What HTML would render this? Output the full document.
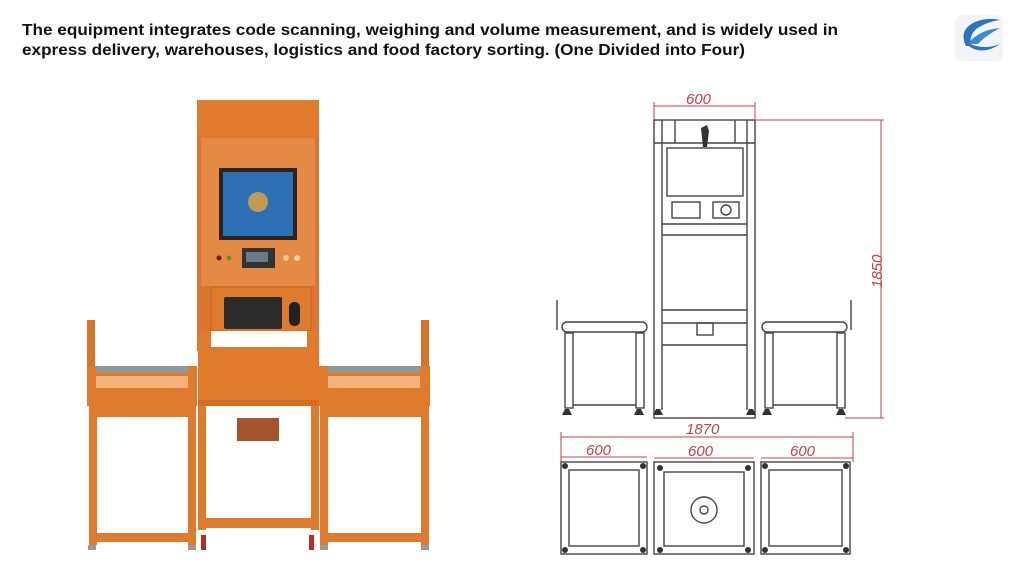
<!DOCTYPE html>
<html><head><meta charset="utf-8"><style>
html,body{margin:0;padding:0;background:#fff;width:1024px;height:573px;overflow:hidden}
svg{display:block}
</style></head><body>
<svg width="1024" height="573" viewBox="0 0 1024 573" xmlns="http://www.w3.org/2000/svg">
<g font-family="Liberation Sans, sans-serif" font-weight="bold" font-size="15.5" fill="#111">
<text x="22" y="35" textLength="816" lengthAdjust="spacingAndGlyphs">The equipment integrates code scanning, weighing and volume measurement, and is widely used in</text>
<text x="22" y="55" textLength="723" lengthAdjust="spacingAndGlyphs">express delivery, warehouses, logistics and food factory sorting. (One Divided into Four)</text>
</g>
<!-- logo -->
<rect x="955" y="15" width="48" height="46" rx="7" fill="#f2f4f7"/>
<path d="M966 46 Q958 30 975 22 Q988 17 1000 20 Q985 22 975 30 Q968 38 972 46Z" fill="#2a74c0"/>
<path d="M968 44 Q978 30 1000 28 Q985 36 978 44Z" fill="#3b8ad6"/>
<path d="M964 42 Q980 58 1000 44 Q985 50 970 44Z" fill="#2a74c0"/>
<!-- ORANGE MACHINE -->
<g>
<rect x="87" y="320" width="8" height="60" fill="#d8732a"/>
<rect x="87" y="366" width="110" height="40" fill="#e07a2c"/>
<rect x="96" y="366" width="92" height="7" fill="#8f9a96"/>
<rect x="96" y="376" width="92" height="12" fill="#f2b27a"/>
<rect x="89" y="405" width="8" height="140" fill="#e07a2c"/>
<rect x="188" y="405" width="8" height="140" fill="#e07a2c"/>
<rect x="89" y="405" width="107" height="12" fill="#e07a2c"/>
<rect x="89" y="533" width="107" height="9" fill="#e07a2c"/>
<rect x="421" y="320" width="8" height="60" fill="#d8732a"/>
<rect x="319" y="366" width="111" height="40" fill="#e07a2c"/>
<rect x="328" y="366" width="92" height="7" fill="#8f9a96"/>
<rect x="328" y="376" width="92" height="12" fill="#f2b27a"/>
<rect x="320" y="405" width="8" height="140" fill="#e07a2c"/>
<rect x="421" y="405" width="8" height="140" fill="#e07a2c"/>
<rect x="320" y="405" width="109" height="12" fill="#e07a2c"/>
<rect x="320" y="533" width="109" height="9" fill="#e07a2c"/>
<g fill="#999"><rect x="88" y="545" width="8" height="5"/><rect x="188" y="545" width="8" height="5"/><rect x="320" y="545" width="8" height="5"/><rect x="421" y="545" width="8" height="5"/></g>
<rect x="201" y="535" width="5" height="15" fill="#b03030"/><rect x="309" y="535" width="5" height="15" fill="#b03030"/>
<rect x="197" y="100" width="122" height="38" fill="#e07a2c"/>
<rect x="197" y="137" width="122" height="212" fill="#dd7530"/>
<rect x="201" y="138" width="114" height="148" fill="#e48a44"/>
<rect x="219" y="168" width="78" height="72" fill="#2a2420"/>
<rect x="223" y="172" width="70" height="64" fill="#2c6fb5"/>
<circle cx="258" cy="202" r="10" fill="#e6a73a" opacity="0.8"/>
<rect x="242" y="248" width="33" height="20" fill="#333"/>
<rect x="246" y="252" width="22" height="10" fill="#6b7a88"/>
<circle cx="219" cy="258" r="2.5" fill="#6a1f10"/><circle cx="229" cy="258" r="2.5" fill="#6a8a30"/>
<circle cx="286" cy="258" r="3" fill="#f0c090"/><circle cx="297" cy="258" r="3" fill="#f6d0a8"/>
<rect x="211" y="287" width="100" height="44" fill="#e07a2c" stroke="#c96420"/>
<rect x="224" y="297" width="58" height="32" rx="2" fill="#2b2b2b"/>
<rect x="289" y="302" width="11" height="24" rx="5" fill="#222"/>
<rect x="197" y="331" width="122" height="18" fill="#fff"/>
<rect x="197" y="331" width="14" height="20" fill="#e07a2c"/>
<rect x="307" y="331" width="12" height="20" fill="#e07a2c"/>
<rect x="198" y="347" width="121" height="57" fill="#e07a2c"/>
<rect x="198" y="400" width="121" height="6" fill="#d46c24"/>
<rect x="198" y="406" width="8" height="124" fill="#e07a2c"/>
<rect x="311" y="406" width="8" height="124" fill="#e07a2c"/>
<rect x="198" y="518" width="121" height="10" fill="#e07a2c"/>
<rect x="237" y="418" width="42" height="23" fill="#a4542a"/>
</g>
<!-- DRAWING -->
<g fill="none" stroke="#444" stroke-width="1.4">
<rect x="654" y="120" width="101" height="298"/>
<line x1="662" y1="120" x2="662" y2="410"/><line x1="747" y1="120" x2="747" y2="410"/>
<line x1="654" y1="143" x2="755" y2="143"/>
<line x1="675" y1="120" x2="675" y2="143"/><line x1="735" y1="120" x2="735" y2="143"/>
<rect x="667" y="148" width="76" height="48"/>
<rect x="672" y="202" width="28" height="16"/><rect x="713" y="202" width="26" height="16"/>
<circle cx="726" cy="210" r="5"/>
<line x1="662" y1="224" x2="747" y2="224"/><line x1="662" y1="235" x2="747" y2="235"/>
<line x1="662" y1="310" x2="747" y2="310"/><line x1="662" y1="323" x2="747" y2="323"/>
<line x1="662" y1="345" x2="747" y2="345"/>
<rect x="697" y="323" width="16" height="12"/>
<rect x="562" y="322" width="85" height="10" rx="5"/>
<line x1="557" y1="300" x2="557" y2="330"/><line x1="851" y1="300" x2="851" y2="330"/>
<rect x="565" y="333" width="8" height="75"/><rect x="636" y="333" width="8" height="75"/>
<line x1="573" y1="405" x2="636" y2="405"/>
<rect x="762" y="322" width="85" height="10" rx="5"/>
<rect x="765" y="333" width="8" height="75"/><rect x="837" y="333" width="8" height="75"/>
<line x1="773" y1="405" x2="837" y2="405"/>
<rect x="561" y="462" width="86" height="92"/><rect x="569" y="470" width="70" height="76"/>
<rect x="654" y="462" width="100" height="92"/><rect x="664" y="472" width="80" height="74"/>
<rect x="761" y="462" width="89" height="92"/><rect x="769" y="470" width="73" height="76"/>
<circle cx="704" cy="510" r="13"/><circle cx="704" cy="510" r="4"/>
</g>
<g fill="#333">
<path d="M701 128 l6 -3 l2 6 l-2 16 h-4z"/>
<circle cx="565" cy="466" r="3"/><circle cx="643" cy="466" r="3"/><circle cx="565" cy="550" r="3"/><circle cx="643" cy="550" r="3"/>
<circle cx="660" cy="468" r="3"/><circle cx="748" cy="468" r="3"/><circle cx="660" cy="550" r="3"/><circle cx="748" cy="550" r="3"/>
<circle cx="765" cy="466" r="3"/><circle cx="846" cy="466" r="3"/><circle cx="765" cy="550" r="3"/><circle cx="846" cy="550" r="3"/>
<path d="M562 415h10l-3-6h-4z M634 415h10l-3-6h-4z M653 415h10l-3-6h-4z M746 415h10l-3-6h-4z M762 415h10l-3-6h-4z M836 415h10l-3-6h-4z"/>
</g>
<g stroke="#c0404a" stroke-width="1" fill="none">
<line x1="654" y1="106" x2="755" y2="106"/><line x1="654" y1="102" x2="654" y2="120"/><line x1="755" y1="102" x2="755" y2="120"/>
<line x1="755" y1="120" x2="884" y2="120"/><line x1="845" y1="418" x2="884" y2="418"/>
<line x1="881" y1="120" x2="881" y2="418"/>
<line x1="561" y1="437" x2="853" y2="437"/>
<line x1="561" y1="457" x2="647" y2="457"/><line x1="654" y1="458" x2="754" y2="458"/><line x1="761" y1="458" x2="853" y2="458"/>
<line x1="561" y1="432" x2="561" y2="462"/><line x1="853" y1="432" x2="853" y2="462"/>
</g>
<g font-family="Liberation Sans, sans-serif" font-style="italic" font-size="15" fill="#c0404a">
<text x="686" y="104">600</text>
<text x="686" y="434">1870</text>
<text x="586" y="455">600</text>
<text x="688" y="456">600</text>
<text x="790" y="456">600</text>
<text transform="translate(882,288) rotate(-90)">1850</text>
</g>
</svg>
</body></html>
